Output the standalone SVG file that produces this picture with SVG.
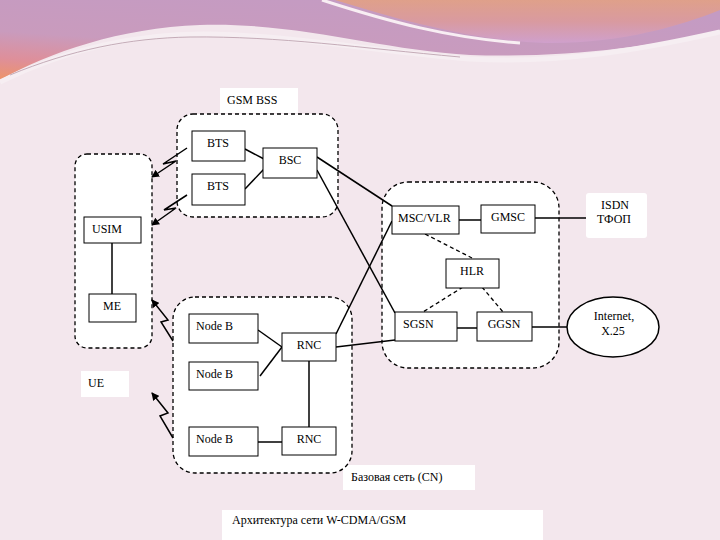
<svg xmlns="http://www.w3.org/2000/svg" width="720" height="540" viewBox="0 0 720 540">
<defs>
<linearGradient id="gl" x1="0.6" y1="0" x2="0" y2="1">
<stop offset="0" stop-color="#c49bc3"/>
<stop offset="0.55" stop-color="#c99bbd"/>
<stop offset="0.8" stop-color="#de8f9a"/>
<stop offset="1" stop-color="#ee9468"/>
</linearGradient>
<linearGradient id="gr" x1="0" y1="0" x2="0" y2="1">
<stop offset="0" stop-color="#dfa08a"/>
<stop offset="0.5" stop-color="#d99aa0"/>
<stop offset="1" stop-color="#cfa0cc"/>
</linearGradient>
<marker id="ah" markerWidth="8" markerHeight="8" refX="7" refY="4" orient="auto" markerUnits="userSpaceOnUse">
<path d="M0,0 L8,4 L0,8 Z" fill="#000"/>
</marker>
<style>
.bg{fill:#f3e7ed}
.box{fill:#fff;stroke:#000;stroke-width:1}
.lbl{fill:#fff;stroke:none}
.grp{fill:#fff;stroke:#000;stroke-width:1.3;stroke-dasharray:4,3}
.t{font-size:12px;fill:#000}
.c{text-anchor:middle}
.ln{stroke:#000;stroke-width:1.5;fill:none}
.dl{stroke:#000;stroke-width:1.3;fill:none;stroke-dasharray:4,3}
.zz{stroke:#000;stroke-width:1.5;fill:none;marker-end:url(#ah)}
</style>
</defs>
<rect class="bg" x="0" y="0" width="720" height="540"/>
<!-- decorative top wave -->
<path d="M0,0 H720 V30 C650,48 560,58 470,55 C380,50 300,22 200,25 C120,28 50,52 0,80 Z" fill="url(#gl)"/>
<path d="M0,82 C60,52 130,33 210,34 C300,36 380,52 470,59 C560,64 640,50 720,32" fill="none" stroke="#f6eef2" stroke-width="5"/>
<path d="M10,75 C70,50 130,38 190,37 C280,36 360,48 460,57" fill="none" stroke="#b89aa8" stroke-width="0.8"/>
<path d="M335,0 C400,20 470,40 545,43 C620,44 680,26 720,10 V0 Z" fill="url(#gr)"/>
<path d="M322,0 C390,22 450,38 520,43" fill="none" stroke="#f8eef3" stroke-width="3"/>
<g font-family="'Liberation Serif', 'Times New Roman', Times, serif">
<!-- labels -->
<g id="lbl-gsmbss"><rect class="lbl" x="220" y="88" width="78" height="25"/><text class="t" x="227" y="104">GSM BSS</text></g>
<g id="lbl-ue"><rect class="lbl" x="81" y="371" width="48" height="26"/><text class="t" x="88" y="387">UE</text></g>
<g id="lbl-cn"><rect class="lbl" x="343" y="465" width="132" height="25"/><text class="t" x="351" y="481">Базовая сеть (CN)</text></g>
<g id="lbl-caption"><rect class="lbl" x="222" y="510" width="321" height="30"/><text class="t" x="232" y="524">Архитектура сети W-CDMA/GSM</text></g>

<!-- groups -->
<g id="grp-ue"><rect class="grp" x="75" y="154" width="77" height="194" rx="12"/></g>
<g id="grp-bss"><rect class="grp" x="177" y="114" width="161" height="103" rx="16"/></g>
<g id="grp-utran"><rect class="grp" x="173" y="297" width="179" height="176" rx="22"/></g>
<g id="grp-cn"><rect class="grp" x="382" y="182" width="177" height="186" rx="26"/></g>

<!-- connectors -->
<g id="connectors">
<line class="ln" x1="112" y1="243" x2="112" y2="294" stroke-width="1.2"/>
<line class="ln" x1="245" y1="149" x2="264" y2="159"/>
<line class="ln" x1="245" y1="189" x2="264" y2="169"/>
<line class="ln" x1="317" y1="157" x2="392" y2="206"/>
<line class="ln" x1="317" y1="170" x2="395" y2="313"/>
<line class="ln" x1="336" y1="334" x2="392" y2="221"/>
<line class="ln" x1="336" y1="347" x2="395" y2="340"/>
<line class="ln" x1="258" y1="330" x2="282" y2="347"/>
<line class="ln" x1="260" y1="376" x2="282" y2="347"/>
<line class="ln" x1="309" y1="361" x2="309" y2="427" stroke-width="2"/>
<line class="ln" x1="258" y1="442" x2="282" y2="442" stroke-width="2.5"/>
<line class="ln" x1="459" y1="220" x2="481" y2="220" stroke-width="2.5"/>
<line class="ln" x1="535" y1="218" x2="586" y2="218"/>
<line class="ln" x1="457" y1="328" x2="477" y2="328" stroke-width="1"/>
<line class="ln" x1="532" y1="327" x2="567" y2="327" stroke-width="2"/>
<line class="dl" x1="425" y1="234" x2="472" y2="258"/>
<line class="dl" x1="463" y1="287" x2="423" y2="312"/>
<line class="dl" x1="482" y1="287" x2="503" y2="312"/>
<path class="zz" d="M187,148 L163,164 L176,161 L152,177"/>
<path class="zz" d="M187,195 L164,210 L176,208 L152,225"/>
<path class="zz" d="M173,341 L161,322 L168,320 L152,300"/>
<path class="zz" d="M173,438 L160,416 L168,413 L152,393"/>
</g>

<!-- nodes -->
<g id="usim"><rect class="box" x="84" y="217" width="57" height="26"/><text class="t" x="92" y="233">USIM</text></g>
<g id="me"><rect class="box" x="89" y="294" width="47" height="28"/><text class="t c" x="112" y="310">ME</text></g>
<g id="bts1"><rect class="box" x="192" y="131" width="53" height="30"/><text class="t c" x="218" y="147">BTS</text></g>
<g id="bts2"><rect class="box" x="192" y="174" width="53" height="31"/><text class="t c" x="218" y="190">BTS</text></g>
<g id="bsc"><rect class="box" x="263" y="148" width="54" height="30"/><text class="t c" x="290" y="164">BSC</text></g>
<g id="nodeb1"><rect class="box" x="189" y="314" width="69" height="29"/><text class="t" x="196" y="330">Node B</text></g>
<g id="nodeb2"><rect class="box" x="189" y="362" width="69" height="28"/><text class="t" x="196" y="378">Node B</text></g>
<g id="nodeb3"><rect class="box" x="189" y="427" width="69" height="29"/><text class="t" x="196" y="443">Node B</text></g>
<g id="rnc1"><rect class="box" x="282" y="333" width="54" height="28"/><text class="t c" x="309" y="349">RNC</text></g>
<g id="rnc2"><rect class="box" x="282" y="427" width="54" height="28"/><text class="t c" x="309" y="443">RNC</text></g>
<g id="mscvlr"><rect class="box" x="392" y="206" width="67" height="28"/><text class="t" x="398" y="222">MSC/VLR</text></g>
<g id="gmsc"><rect class="box" x="481" y="205" width="54" height="28"/><text class="t c" x="508" y="221">GMSC</text></g>
<g id="hlr"><rect class="box" x="446" y="259" width="53" height="29"/><text class="t c" x="472" y="275">HLR</text></g>
<g id="sgsn"><rect class="box" x="395" y="312" width="62" height="29"/><text class="t" x="403" y="328">SGSN</text></g>
<g id="ggsn"><rect class="box" x="477" y="312" width="55" height="29"/><text class="t c" x="504" y="328">GGSN</text></g>
<g id="isdn"><rect class="lbl" x="586" y="193" width="61" height="45" rx="3"/><text class="t c" x="615" y="209">ISDN</text><text class="t c" x="614" y="223">ТФОП</text></g>
<g id="internet"><ellipse cx="613" cy="327" rx="46" ry="30" fill="#fff" stroke="#000" stroke-width="1.5"/><text class="t c" x="614" y="320">Internet,</text><text class="t c" x="613" y="335">X.25</text></g>
</g>
</svg>
